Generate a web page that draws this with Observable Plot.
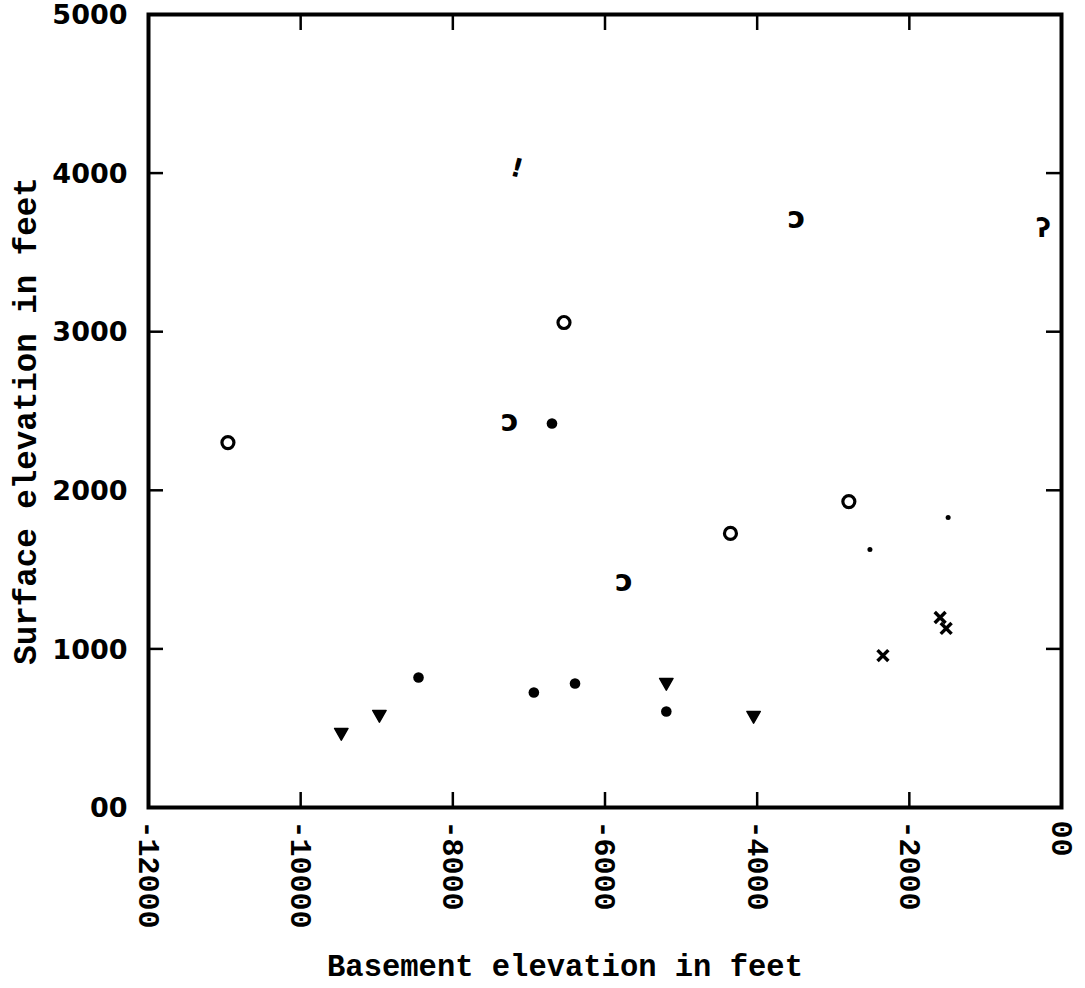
<!DOCTYPE html>
<html><head><meta charset="utf-8">
<script src="https://cdn.jsdelivr.net/npm/d3@7"></script>
<script src="https://cdn.jsdelivr.net/npm/@observablehq/plot@0.6"></script>
<style>body{margin:0;background:#fff}</style>
</head><body><div id="chart"></div>
<script>
// Axis ticks and labels
const xTicks = [-12000, -10000, -8000, -6000, -4000, -2000, 0];
const xTickLabels = ["-12000", "-10000", "-8000", "-6000", "-4000", "-2000", "00"];
const yTicks = [0, 1000, 2000, 3000, 4000, 5000];
const yTickLabels = ["00", "1000", "2000", "3000", "4000", "5000"];
const xTitle = "Basement elevation in feet";
const yTitle = "Surface elevation in feet";

// Data points by marker type: [basement elevation, surface elevation]
const openCircles = [[-10956, 2301], [-6539, 3058], [-4351, 1728], [-2795, 1929]];
const filledDots = [[-6697, 2421], [-8451, 820], [-6935, 725], [-6394, 782], [-5194, 605]];
const smallDots = [[-2518, 1627], [-1490, 1829]];
const triangles = [[-9466, 467], [-8965, 580], [-5194, 782], [-4047, 574]];
const crosses = [[-1595, 1198], [-1516, 1129], [-2347, 958]];
const hooks = [[-7251, 2415], [-3481, 3695], [-5748, 1406]];
const exclaims = [[-7159, 4029]];
const questions = [[-237, 3651]];

const W = 1085, H = 988;
const mL = 148, mR = 24, mT = 14, mB = 181;
const innerW = W - mL - mR, innerH = H - mT - mB;
const tickLen = 15;

const downTriangle = {
  draw(context, size) {
    const s = Math.sqrt(size) * 0.9;
    context.moveTo(-s * 0.6, -s * 0.45);
    context.lineTo(s * 0.6, -s * 0.45);
    context.lineTo(0, s * 0.6);
    context.closePath();
  }
};

const mono = "'Liberation Mono', 'DejaVu Sans Mono', monospace";
const sans = "'DejaVu Sans', sans-serif";
const inner = xTicks.slice(1, -1);
const innerY = yTicks.slice(1, -1);

const chart = Plot.plot({
  width: W, height: H,
  marginLeft: mL, marginRight: mR, marginTop: mT, marginBottom: mB,
  x: {domain: [-12000, 0]},
  y: {domain: [0, 5000]},
  style: {background: "#fff", color: "#000", overflow: "visible"},
  marks: [
    Plot.frame({stroke: "#000", strokeWidth: 4}),
    // inward ticks
    Plot.ruleX(inner, {x: d => d, insetTop: innerH - tickLen, stroke: "#000", strokeWidth: 2.5}),
    Plot.ruleX(inner, {x: d => d, insetBottom: innerH - tickLen - 1, stroke: "#000", strokeWidth: 2.5}),
    Plot.ruleY(innerY, {y: d => d, insetRight: innerW - tickLen, stroke: "#000", strokeWidth: 2.5}),
    Plot.ruleY(innerY, {y: d => d, insetLeft: innerW - tickLen, stroke: "#000", strokeWidth: 2.5}),
    Plot.axisX(xTicks, {
      anchor: "bottom", tickSize: 0, tickPadding: 13, tickRotate: 90,
      tickFormat: d => xTickLabels[xTicks.indexOf(d)],
      fontSize: 30, fontFamily: mono, fontWeight: "bold", label: null
    }),
    Plot.axisY(yTicks, {
      anchor: "left", tickSize: 0, tickPadding: 21, dy: 1,
      tickFormat: d => yTickLabels[yTicks.indexOf(d)],
      fontSize: 27, fontFamily: sans, fontWeight: "bold", label: null
    }),
    Plot.text([xTitle], {frameAnchor: "bottom", dx: -40, dy: 159, lineAnchor: "middle", textAnchor: "middle",
      fontSize: 30.5, fontFamily: mono, fontWeight: "bold"}),
    Plot.text([yTitle], {frameAnchor: "left", dx: -123, dy: 10, rotate: -90, lineAnchor: "middle", textAnchor: "middle",
      fontSize: 32.5, fontFamily: mono, fontWeight: "bold"}),
    // markers
    Plot.dot(openCircles, {x: d => d[0], y: d => d[1], r: 6, stroke: "#000", strokeWidth: 3.2, fill: "#fff"}),
    Plot.dot(filledDots, {x: d => d[0], y: d => d[1], r: 5.3, fill: "#000", stroke: "none"}),
    Plot.dot(smallDots, {x: d => d[0], y: d => d[1], r: 2.5, fill: "#000", stroke: "none"}),
    Plot.dot(triangles, {x: d => d[0], y: d => d[1], r: 7, symbol: downTriangle, fill: "#000", stroke: "#000", strokeWidth: 1.5, strokeLinejoin: "round"}),
    Plot.dot(crosses, {x: d => d[0], y: d => d[1], r: 5, symbol: "times", stroke: "#000", strokeWidth: 3.5, fill: "none"}),
    Plot.text(hooks, {x: d => d[0], y: d => d[1], text: () => "ɔ", fontSize: 30, fontWeight: "bold", fontFamily: sans, fill: "#000", dy: -3}),
    Plot.text(exclaims, {x: d => d[0], y: d => d[1], text: () => "!", fontSize: 26, fontWeight: "bold", fontFamily: sans, fill: "#000", rotate: 15}),
    Plot.text(questions, {x: d => d[0], y: d => d[1], text: () => "ʔ", fontSize: 26, fontWeight: "bold", fontFamily: sans, fill: "#000"})
  ]
});
document.getElementById("chart").appendChild(chart);
</script>
</body></html>
